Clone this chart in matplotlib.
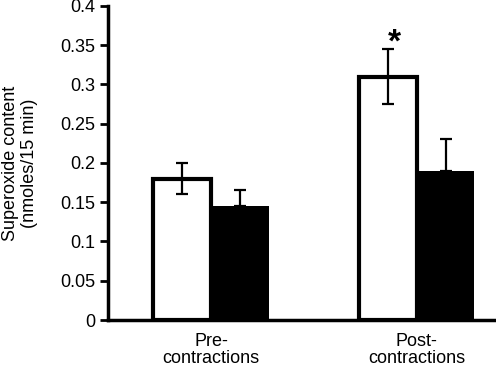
import numpy as np
import matplotlib.pyplot as plt

plt.rcParams['font.family'] = ['Liberation Sans', 'DejaVu Sans']

# data
groups = ['Pre-\ncontractions', 'Post-\ncontractions']
white_vals = [0.18, 0.31]
white_err = [0.02, 0.035]
black_vals = [0.145, 0.19]
black_err = [0.021, 0.04]
yticks = [0, 0.05, 0.1, 0.15, 0.2, 0.25, 0.3, 0.35, 0.4]
ytick_labels = ['0', '0.05', '0.1', '0.15', '0.2', '0.25', '0.3', '0.35', '0.4']

fig = plt.figure(figsize=(4.96, 3.67), dpi=100)
ax = fig.add_axes([0.218, 0.128, 0.778, 0.856])

x = np.arange(len(groups))
w = 0.28

ax.bar(x - w / 2, white_vals, w, color='white', edgecolor='black', linewidth=3, zorder=2)
ax.bar(x + w / 2, black_vals, w, color='black', edgecolor='black', linewidth=0, zorder=2)

ax.errorbar(x - w / 2, white_vals, yerr=white_err, fmt='none', ecolor='black',
            elinewidth=1.6, capsize=4.3, capthick=1.6, zorder=3)
ax.errorbar(x + w / 2, black_vals, yerr=[[0, 0], black_err], fmt='none', ecolor='black',
            elinewidth=1.6, capsize=4.3, capthick=1.6, zorder=3)

# significance marker over the post-contraction white bar
ax.text(x[1] - w / 2 + 0.03, white_vals[1] + white_err[1] + 0.008, '*',
        ha='center', va='center', fontsize=24, fontweight='bold')

ax.set_xlim(-0.5, 1.375)
ax.set_ylim(0, 0.4)
ax.set_yticks(yticks)
ax.set_yticklabels(ytick_labels)
ax.set_xticks(x)
ax.set_xticklabels(groups, linespacing=1.0)
ax.tick_params(axis='x', length=0, pad=9, labelsize=13)
ax.tick_params(axis='y', length=6, width=2, direction='out', labelsize=13, pad=3)

for s in ['top', 'right']:
    ax.spines[s].set_visible(False)
for s in ['left', 'bottom']:
    ax.spines[s].set_linewidth(2.5)

ax.set_ylabel('Superoxide content\n(nmoles/15 min)', fontsize=13, labelpad=16, linespacing=1.2)

fig.savefig('out.png', dpi=100)
